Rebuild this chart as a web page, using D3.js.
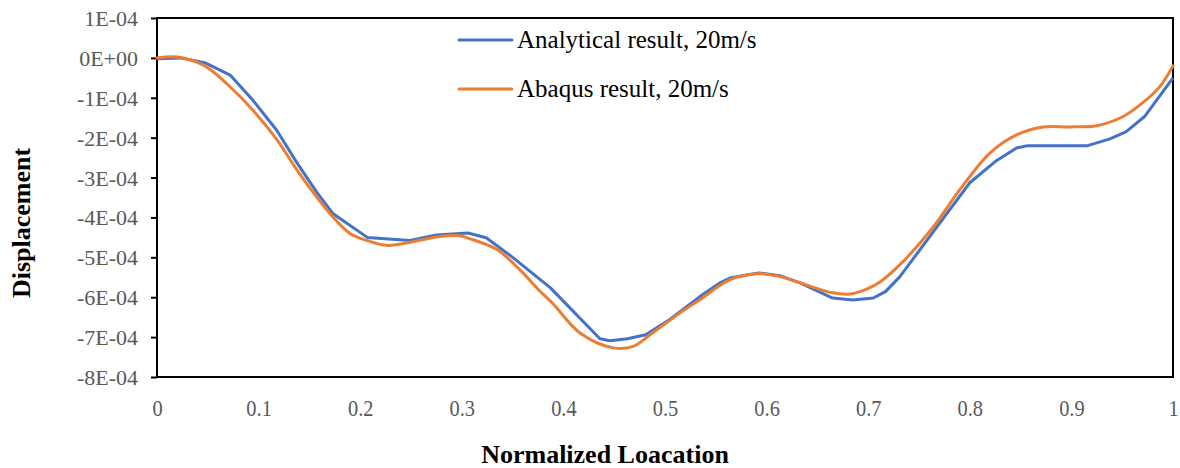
<!DOCTYPE html>
<html>
<head>
<meta charset="utf-8">
<script src="https://cdn.jsdelivr.net/npm/d3@7"></script>
<style>
  body { margin: 0; background: #fff; }
</style>
</head>
<body>
<div class="lineChart"></div>
<script>
// analytical result (blue), displacement in units of 1E-04
var analyticalX = [0, 0.023, 0.047, 0.072, 0.094, 0.118, 0.137, 0.157, 0.173, 0.207, 0.249, 0.275, 0.306, 0.324, 0.347, 0.387, 0.436, 0.446, 0.463, 0.481, 0.505, 0.534, 0.554, 0.564, 0.592, 0.613, 0.633, 0.665, 0.685, 0.705, 0.717, 0.731, 0.800, 0.825, 0.846, 0.857, 0.916, 0.938, 0.954, 0.972, 1.0];
var analyticalY = [-0.02, 0, -0.12, -0.43, -1.05, -1.82, -2.6, -3.36, -3.9, -4.5, -4.58, -4.44, -4.39, -4.51, -4.94, -5.76, -7.04, -7.09, -7.04, -6.94, -6.55, -5.99, -5.64, -5.52, -5.39, -5.46, -5.64, -6.02, -6.07, -6.02, -5.86, -5.49, -3.13, -2.6, -2.26, -2.2, -2.2, -2.03, -1.85, -1.47, -0.5];

// abaqus result (orange)
var abaqusX = [0, 0.02, 0.047, 0.07, 0.094, 0.118, 0.137, 0.157, 0.173, 0.19, 0.207, 0.226, 0.252, 0.275, 0.298, 0.311, 0.335, 0.357, 0.377, 0.39, 0.416, 0.449, 0.468, 0.488, 0.515, 0.534, 0.564, 0.591, 0.61, 0.633, 0.665, 0.682, 0.699, 0.712, 0.731, 0.764, 0.79, 0.82, 0.846, 0.872, 0.899, 0.925, 0.951, 0.97, 0.987, 1.0];
var abaqusY = [0, 0.02, -0.2, -0.68, -1.3, -2.05, -2.78, -3.48, -3.98, -4.4, -4.58, -4.7, -4.61, -4.49, -4.46, -4.56, -4.81, -5.31, -5.85, -6.17, -6.89, -7.27, -7.24, -6.89, -6.39, -6.07, -5.56, -5.41, -5.46, -5.64, -5.89, -5.92, -5.79, -5.61, -5.19, -4.24, -3.31, -2.38, -1.93, -1.73, -1.73, -1.7, -1.47, -1.13, -0.72, -0.2];

var yTicks = [1, 0, -1, -2, -3, -4, -5, -6, -7, -8];
var yTickLabels = ["1E-04", "0E+00", "-1E-04", "-2E-04", "-3E-04", "-4E-04", "-5E-04", "-6E-04", "-7E-04", "-8E-04"];
var xTicks = [0, 0.1, 0.2, 0.3, 0.4, 0.5, 0.6, 0.7, 0.8, 0.9, 1];

var seriesNames = ["Analytical result, 20m/s", "Abaqus result, 20m/s"];
var colors = ["#4472C4", "#ED7D31"];

var serif = "'Liberation Serif', 'Times New Roman', Times, serif";

drawChart();

function drawChart() {
  var margin = { top: 18, right: 7, bottom: 91, left: 157 };
  var totalW = 1180, totalH = 468;
  var width = totalW - margin.left - margin.right;
  var height = totalH - margin.top - margin.bottom;

  var svg = d3.select(".lineChart").append("svg")
      .attr("width", totalW)
      .attr("height", totalH)
      .style("font-family", serif);

  var g = svg.append("g")
      .attr("transform", "translate(" + margin.left + "," + margin.top + ")");

  var scaleX = d3.scaleLinear().domain([0, 1]).range([0, width]);
  var scaleY = d3.scaleLinear().domain([-8, 1]).range([height, 0]);

  // y axis
  var yAxis = d3.axisLeft(scaleY)
      .tickValues(yTicks)
      .tickSize(6)
      .tickPadding(13)
      .tickFormat(function(d, i) { return yTickLabels[i]; });
  var yg = g.append("g").attr("class", "y axis").call(yAxis);
  yg.attr("font-family", null);
  yg.select(".domain").remove();
  yg.selectAll("line").attr("stroke", "#000").attr("stroke-width", 2);
  yg.selectAll("text")
      .attr("fill", "#595959")
      .style("font-family", serif)
      .style("font-size", "22px")
      .attr("dy", "0.34em");

  // x axis (labels a bit condensed like the original)
  var xAxis = d3.axisBottom(scaleX)
      .tickValues(xTicks)
      .tickSize(0)
      .tickPadding(22)
      .tickFormat(function(d) { return d3.format("")(d); });
  var xg = g.append("g").attr("class", "x axis")
      .attr("transform", "translate(0," + height + ")")
      .call(xAxis);
  xg.attr("font-family", null);
  xg.select(".domain").remove();
  xg.selectAll("text")
      .attr("fill", "#595959")
      .attr("transform", "scale(0.85,1)")
      .style("font-family", serif)
      .style("font-size", "24px");

  // plot frame
  g.append("rect")
      .attr("x", 0).attr("y", 0)
      .attr("width", width).attr("height", height)
      .attr("fill", "none")
      .attr("stroke", "#000")
      .attr("stroke-width", 2);

  var analytical = analyticalX.map(function(x, i) { return { x: x, y: analyticalY[i] }; });
  var abaqus = abaqusX.map(function(x, i) { return { x: x, y: abaqusY[i] }; });

  var lineStraight = d3.line()
      .x(function(d) { return scaleX(d.x); })
      .y(function(d) { return scaleY(d.y); });
  var lineSmooth = d3.line()
      .curve(d3.curveCatmullRom.alpha(0.5))
      .x(function(d) { return scaleX(d.x); })
      .y(function(d) { return scaleY(d.y); });

  g.append("path")
      .attr("d", lineStraight(analytical))
      .attr("fill", "none")
      .attr("stroke", colors[0])
      .attr("stroke-width", 3)
      .attr("stroke-linejoin", "round");

  g.append("path")
      .attr("d", lineSmooth(abaqus))
      .attr("fill", "none")
      .attr("stroke", colors[1])
      .attr("stroke-width", 3)
      .attr("stroke-linecap", "round");

  // legend
  var legend = svg.append("g").attr("transform", "translate(459,40)");
  seriesNames.forEach(function(name, i) {
    var row = legend.append("g").attr("transform", "translate(0," + (i * 49) + ")");
    row.append("line")
        .attr("x1", 0).attr("x2", 53)
        .attr("y1", 0).attr("y2", 0)
        .attr("stroke", colors[i])
        .attr("stroke-width", 3)
        .attr("stroke-linecap", "round");
    row.append("text")
        .attr("x", 58).attr("y", 0)
        .attr("dy", "0.33em")
        .style("font-family", serif)
        .style("font-size", "25px")
        .attr("fill", "#000")
        .text(name);
  });

  // axis titles
  svg.append("text")
      .attr("text-anchor", "middle")
      .attr("transform", "translate(30,223) rotate(-90)")
      .style("font-family", serif)
      .style("font-size", "26px")
      .style("font-weight", "bold")
      .text("Displacement");

  svg.append("text")
      .attr("text-anchor", "middle")
      .attr("x", 605)
      .attr("y", 463)
      .style("font-family", serif)
      .style("font-size", "26px")
      .style("font-weight", "bold")
      .text("Normalized Loacation");
}
</script>
</body>
</html>
